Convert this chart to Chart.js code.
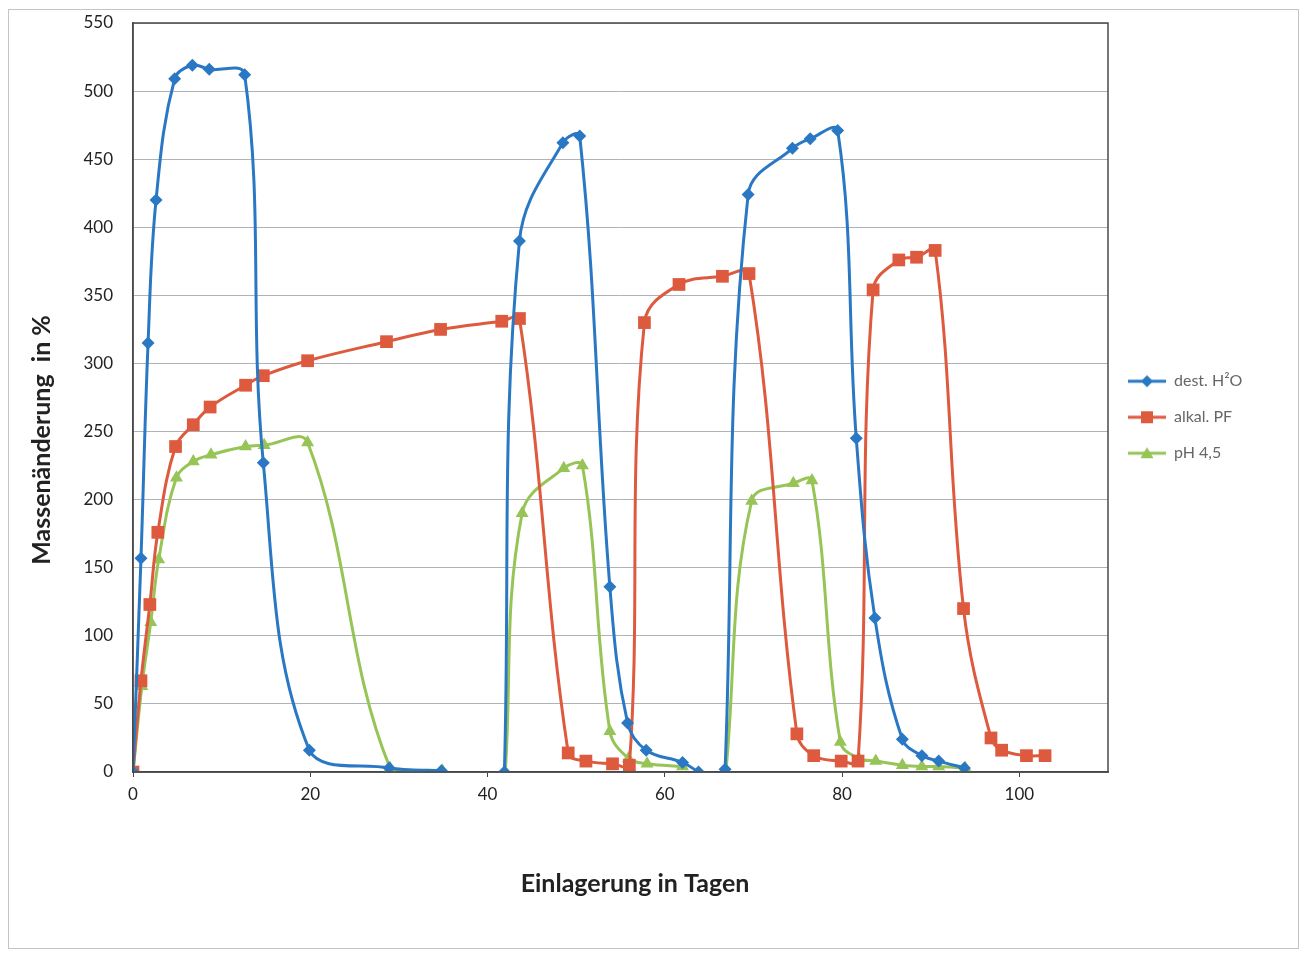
<!DOCTYPE html>
<html>
<head>
<meta charset="utf-8">
<script src="https://cdn.jsdelivr.net/npm/chart.js@4.4.1/dist/chart.umd.min.js"></script>
<style>
  html, body { margin: 0; padding: 0; background: #fff; }
  #wrap { position: relative; width: 1315px; height: 958px; }
  #frame { position: absolute; left: 8px; top: 9px; width: 1291px; height: 940px; border: 1px solid #c4c4c8; box-sizing: border-box; }
  canvas { position: absolute; left: 0; top: 0; }
</style>
</head>
<body>
<div id="wrap">
  <div id="frame"></div>
  <canvas id="c" width="1315" height="958"></canvas>
</div>
<script>
// ---- data (days, mass change in %) ----
const seriesNames = ['dest. H²O', 'alkal. PF', 'pH 4,5'];

const blueDays = [0,0.9,1.7,2.6,4.7,6.7,8.6,12.6,14.7,19.9,28.9,34.8,38,41.9,43.6,48.5,50.4,53.8,55.8,57.9,62.0,63.8,65,66.8,69.4,74.4,76.4,79.5,81.6,83.7,86.8,89.0,90.9,93.8];
const blueVals = [0,157,315,420,509,519,516,512,227,16,3,1,null,0,390,462,467,136,36,16,7,0,null,2,424,458,465,471,245,113,24,12,8,3];

const redDays = [0,0.9,1.9,2.8,4.8,6.8,8.7,12.7,14.7,19.7,28.6,34.7,41.6,43.6,49.1,51.1,54.1,56.0,57.7,61.6,66.5,69.5,74.9,76.8,79.9,81.8,83.5,86.4,88.4,90.5,93.7,96.8,98.0,100.8,102.9];
const redVals = [0,67,123,176,239,255,268,284,291,302,316,325,331,333,14,8,6,5,330,358,364,366,28,12,8,8,354,376,378,383,120,25,16,12,12];

const greenDays = [0,1.0,2.0,2.9,4.9,6.8,8.8,12.7,14.8,19.7,29.0,34.9,38,42.0,43.9,48.6,50.7,53.8,55.9,58.0,62.0,65,66.9,69.8,74.5,76.6,79.8,81.9,83.8,86.8,89.0,90.9,93.9];
const greenVals = [0,63,110,156,216,228,233,239,240,242,3,1,null,0,190,223,225,30,10,6,4,null,1,199,212,214,22,10,8,5,4,4,3];

const xTicks = [0, 20, 40, 60, 80, 100];
const yTitle = 'Massenänderung  in %';
const xTitle = 'Einlagerung in Tagen';

// ---- styling ----
const FONT = 'Lato, "Open Sans", "DejaVu Sans", sans-serif';
const colors = ['#2a78c4', '#de5a3e', '#97c456'];
const shapes = ['rectRot', 'rect', 'triangle'];
const radii = [6.5, 9, 7.5];

function toPoints(days, vals) {
  return days.map((d, i) => ({ x: d, y: vals[i] }));
}

function legendIcon(color, shape) {
  const c = document.createElement('canvas');
  c.width = 38; c.height = 16;
  const g = c.getContext('2d');
  g.strokeStyle = color; g.lineWidth = 3;
  g.beginPath(); g.moveTo(0, 8); g.lineTo(38, 8); g.stroke();
  g.fillStyle = color;
  g.beginPath();
  if (shape === 'rectRot') { g.moveTo(19, 2); g.lineTo(25, 8); g.lineTo(19, 14); g.lineTo(13, 8); }
  else if (shape === 'rect') { g.rect(13, 2, 12, 12); }
  else { g.moveTo(19, 2); g.lineTo(25.5, 13); g.lineTo(12.5, 13); }
  g.closePath(); g.fill();
  return c;
}

const datasets = [
  [blueDays, blueVals], [redDays, redVals], [greenDays, greenVals]
].map(([d, v], i) => ({
  label: seriesNames[i],
  data: toPoints(d, v),
  showLine: true,
  borderColor: colors[i],
  backgroundColor: colors[i],
  borderWidth: 3,
  tension: 0.38,
  spanGaps: false,
  pointStyle: shapes[i],
  pointRadius: radii[i],
  pointHoverRadius: radii[i],
  pointBorderWidth: 0,
  pointBackgroundColor: colors[i]
}));

const plotFrame = {
  id: 'plotFrame',
  afterDatasetsDraw(chart) {
    const a = chart.chartArea, ctx = chart.ctx;
    ctx.save();
    ctx.strokeStyle = '#4a4a4a';
    ctx.lineWidth = 1.5;
    ctx.strokeRect(a.left, a.top, a.right - a.left, a.bottom - a.top);
    ctx.restore();
  },
  afterDraw(chart) {
    const ctx = chart.ctx;
    ctx.save();
    ctx.fillStyle = '#222';
    ctx.font = 'bold 25px ' + FONT;
    ctx.textAlign = 'center';
    ctx.textBaseline = 'middle';
    ctx.fillText(xTitle, 635, 884);
    ctx.translate(42, 440);
    ctx.rotate(-Math.PI / 2);
    ctx.fillText(yTitle, 0, 0);
    ctx.restore();
  }
};

let xAxisHeight = 186;

const chart = new Chart(document.getElementById('c'), {
  type: 'scatter',
  data: { datasets },
  options: {
    responsive: false,
    animation: false,
    layout: { padding: { top: 23, left: 0, bottom: 0, right: 40 } },
    plugins: {
      tooltip: { enabled: false },
      legend: {
        position: 'right',
        fullSize: false,
        align: 'center',
        title: { display: true, text: ' ', font: { size: 12 }, padding: { top: 12, bottom: 13 } },
        labels: {
          usePointStyle: true,
          pointStyleWidth: 38,
          padding: 20,
          color: '#222',
          font: { family: FONT, size: 16 },
          generateLabels: (ch) => ch.data.datasets.map((ds, i) => ({
            text: ds.label,
            fillStyle: colors[i],
            strokeStyle: colors[i],
            lineWidth: 0,
            pointStyle: legendIcon(colors[i], shapes[i]),
            datasetIndex: i,
            hidden: false
          }))
        }
      }
    },
    scales: {
      x: {
        type: 'linear',
        min: 0, max: 110,
        afterBuildTicks: (s) => { s.ticks = xTicks.map(v => ({ value: v })); },
        afterFit: (s) => { s.height = xAxisHeight; },
        grid: { display: true, drawOnChartArea: false, drawTicks: true, tickLength: 5, color: '#444' },
        border: { color: '#444', width: 1.5 },
        ticks: { color: '#222', font: { family: FONT, size: 17 }, padding: 7, maxRotation: 0 }
      },
      y: {
        min: 0, max: 550,
        ticks: { stepSize: 50, color: '#222', font: { family: FONT, size: 17 }, padding: 4 },
        afterFit: (s) => { s.width = 133; },
        grid: { color: '#aeb2ba', drawTicks: true, tickLength: 16, tickColor: 'rgba(0,0,0,0)', lineWidth: 1 },
        border: { color: '#444', width: 1.5 }
      }
    }
  },
  plugins: [plotFrame]
});

// align the plot area edges with the reference
chart.options.layout.padding.right += chart.chartArea.right - 1108;
chart.options.layout.padding.top += 23 - chart.chartArea.top;
chart.update('none');
xAxisHeight += chart.chartArea.bottom - 772;
chart.update('none');
</script>
</body>
</html>
